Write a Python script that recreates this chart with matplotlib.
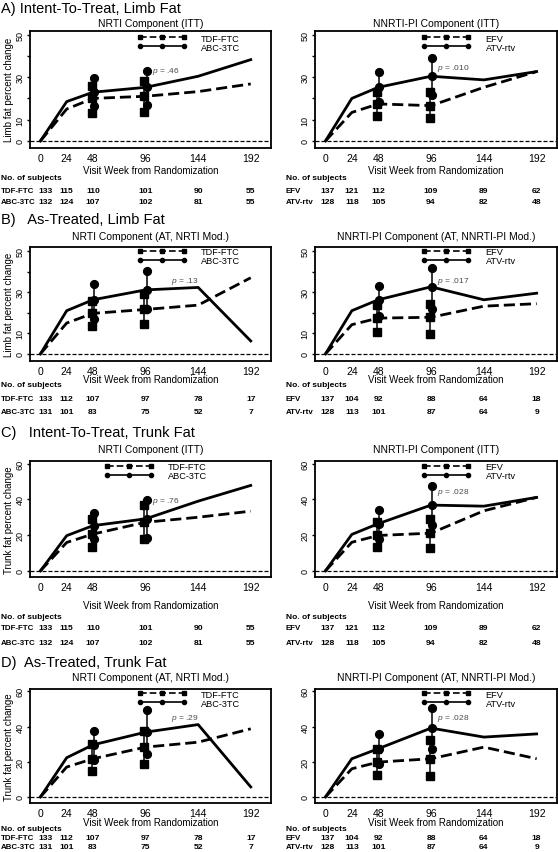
"""
Body fat figure.
Limb and trunk fat percent change by randomized component (ITT and as-treated).
"""

import matplotlib
matplotlib.use("Agg")
import matplotlib.pyplot as plt
from matplotlib.lines import Line2D
from matplotlib.transforms import blended_transform_factory

plt.rcParams["font.family"] = ["Liberation Sans", "DejaVu Sans"]
plt.rcParams["mathtext.fontset"] = "custom"
plt.rcParams["mathtext.rm"] = "Liberation Sans"
plt.rcParams["mathtext.it"] = "Liberation Sans:italic"

# ==============================================================
# Data
# ==============================================================

weeks = [0, 24, 48, 96, 144, 192]
ci_weeks = [48, 96]

nrti_arms = ["TDF-FTC", "ABC-3TC"]
nnrti_arms = ["EFV", "ATV-rtv"]

# A) ITT, limb fat
a_tdf = [0, 15.0, 20.0, 21.0, 23.2, 26.8]
a_tdf_ci = [[13.1, 25.7], [13.7, 28.4]]
a_abc = [0, 18.5, 22.9, 25.2, 30.4, 38.2]
a_abc_ci = [[16.2, 29.5], [16.9, 33.1]]
a_efv = [0, 13.4, 17.4, 16.6, 25.2, 32.6]
a_efv_ci = [[11.5, 22.9], [10.6, 22.9]]
a_atv = [0, 20.0, 25.2, 30.4, 28.7, 32.6]
a_atv_ci = [[18.1, 32.6], [21.6, 39.0]]

# B) As-treated, limb fat
b_tdf = [0, 15.0, 19.7, 21.6, 23.7, 37.0]
b_tdf_ci = [[13.7, 25.5], [14.7, 29.2]]
b_abc = [0, 21.0, 26.3, 31.1, 32.3, 6.3]
b_abc_ci = [[17.0, 33.8], [22.0, 40.5]]
b_efv = [0, 14.2, 17.4, 17.8, 23.2, 24.4]
b_efv_ci = [[10.6, 23.7], [9.9, 24.1]]
b_atv = [0, 21.0, 26.3, 32.6, 26.3, 29.5]
b_atv_ci = [[18.5, 33.1], [21.6, 41.5]]

# C) ITT, trunk fat
c_tdf = [0, 15.9, 20.6, 27.2, 30.0, 33.4]
c_tdf_ci = [[13.5, 29.1], [17.8, 36.6]]
c_abc = [0, 19.7, 25.3, 29.1, 39.0, 47.8]
c_abc_ci = [[17.8, 32.3], [18.4, 39.4]]
c_efv = [0, 16.0, 19.8, 21.1, 33.6, 41.1]
c_efv_ci = [[13.6, 27.4], [12.8, 29.2]]
c_atv = [0, 20.4, 26.4, 36.8, 36.2, 41.1]
c_atv_ci = [[17.9, 34.3], [25.5, 47.5]]

# D) As-treated, trunk fat
d_tdf = [0, 17.0, 21.7, 28.3, 31.1, 38.7]
d_tdf_ci = [[14.7, 30.2], [18.9, 37.7]]
d_abc = [0, 22.3, 29.6, 36.8, 41.1, 5.7]
d_abc_ci = [[21.1, 37.7], [24.2, 49.1]]
d_efv = [0, 16.0, 19.8, 21.7, 28.3, 21.7]
d_efv_ci = [[12.3, 27.4], [11.7, 32.1]]
d_atv = [0, 21.7, 27.4, 39.1, 34.0, 35.8]
d_atv_ci = [[18.9, 35.5], [27.4, 50.6]]

# Number of subjects at each visit week
n_itt_tdf = [133, 115, 110, 101, 90, 55]
n_itt_abc = [132, 124, 107, 102, 81, 55]
n_itt_efv = [137, 121, 112, 109, 89, 62]
n_itt_atv = [128, 118, 105, 94, 82, 48]
n_at_tdf = [133, 112, 107, 97, 78, 17]
n_at_abc = [131, 101, 83, 75, 52, 7]
n_at_efv = [137, 104, 92, 88, 64, 18]
n_at_atv = [128, 113, 101, 87, 64, 9]

p_values = [".46", ".010", ".13", ".017", ".76", ".028", ".29", ".028"]

row_titles = ["A) Intent-To-Treat, Limb Fat", "B)   As-Treated, Limb Fat",
              "C)   Intent-To-Treat, Trunk Fat", "D)  As-Treated, Trunk Fat"]
sub_titles = [["NRTI Component (ITT)", "NNRTI-PI Component (ITT)"],
              ["NRTI Component (AT, NRTI Mod.)", "NNRTI-PI Component (AT, NNRTI-PI Mod.)"],
              ["NRTI Component (ITT)", "NNRTI-PI Component (ITT)"],
              ["NRTI Component (AT, NRTI Mod.)", "NNRTI-PI Component (AT, NNRTI-PI Mod.)"]]

# ==============================================================
# Layout (pixels of a 558 x 853 canvas)
# ==============================================================

W, H = 558, 853
col_x = [(30, 271), (315, 557)]
table_x = [1, 286]
first_count_dx = [4.4, 1.5]   # baseline count nudged right of the arm label
ax_top = [31.7, 248.3, 462.3, 690]
ax_bot = [149, 361.7, 578.3, 804.3]
title_y = [8.5, 220, 433.3, 663.3]
sub_y = [24, 236.5, 450, 678.3]
xlabel_y = [170.7, 380.5, 606, 823.5]
table_y = [[179, 191.7, 202.7], [385.5, 400, 412], [617.7, 629, 643.3], [829.3, 838.5, 847.3]]
legend_x = [[0.444, 0.44], [0.444, 0.44], [0.307, 0.44], [0.443, 0.44]]
legend_y = [0.975, 1.005, 0.99, 0.995]
p_pos = [[(102, 33.0), (101, 34.7)], [(119, 35.5), (101.5, 35.5)],
         [(102, 39.4), (101, 44.3)], [(119, 44.9), (101, 45.3)]]


def draw_panel(ax, dashed, dashed_ci, solid, solid_ci, ylim, yticks, ylabels):
    """Mean curves, 95% CIs at weeks 48/96 and axis styling."""
    ax.axhline(0, color="black", lw=0.9, dashes=(3.2, 1.6))
    ax.plot(weeks, dashed, color="black", lw=2.0, dashes=(4, 1.8))
    ax.plot(weeks, solid, color="black", lw=2.0)

    for i, wk in enumerate(ci_weeks):
        k = weeks.index(wk)
        for vals, ci, marker, dx in [(dashed, dashed_ci, "s", -1.0), (solid, solid_ci, "o", 1.0)]:
            ax.plot([wk + dx, wk + dx], ci[i], color="black", lw=1.1)
            ax.plot([wk + dx] * 3, [ci[i][0], vals[k], ci[i][1]], ls="none",
                    marker=marker, ms=5.6, color="black")

    ax.set_xlim(-9.5, 210.5)
    ax.set_ylim(*ylim)
    ax.set_xticks(weeks)
    ax.set_yticks(yticks)
    ax.set_yticklabels(ylabels)
    ax.tick_params(axis="x", length=0, pad=3.5, labelsize=7.5)
    ax.tick_params(axis="y", length=2.5, width=1, pad=1.5, labelsize=6.5, labelrotation=90)
    for lab in ax.get_yticklabels():
        lab.set_va("center")
    for sp in ax.spines.values():
        sp.set_linewidth(1.3)

    handles = [Line2D([], [], color="black", lw=1.2, dashes=(4, 1.8), marker="s", ms=3),
               Line2D([], [], color="black", lw=1.2, marker="o", ms=3)]
    return handles


fig = plt.figure(figsize=(W / 100, H / 100), dpi=100)

panels = [
    [(a_tdf, a_tdf_ci, a_abc, a_abc_ci, n_itt_tdf, n_itt_abc),
     (a_efv, a_efv_ci, a_atv, a_atv_ci, n_itt_efv, n_itt_atv)],
    [(b_tdf, b_tdf_ci, b_abc, b_abc_ci, n_at_tdf, n_at_abc),
     (b_efv, b_efv_ci, b_atv, b_atv_ci, n_at_efv, n_at_atv)],
    [(c_tdf, c_tdf_ci, c_abc, c_abc_ci, n_itt_tdf, n_itt_abc),
     (c_efv, c_efv_ci, c_atv, c_atv_ci, n_itt_efv, n_itt_atv)],
    [(d_tdf, d_tdf_ci, d_abc, d_abc_ci, n_at_tdf, n_at_abc),
     (d_efv, d_efv_ci, d_atv, d_atv_ci, n_at_efv, n_at_atv)],
]

for r in range(4):
    limb = r < 2
    ylim = (-3.3, 51.8) if limb else (-3.6, 61.3)
    yticks = [0, 10, 20, 30, 40, 50] if limb else [0, 20, 40, 60]
    ylabels = ["0", "10", "", "30", "", "50"] if limb else ["0", "20", "40", "60"]

    fig.text(1 / W, 1 - title_y[r] / H, row_titles[r], fontsize=10.5, va="center", ha="left")

    for c in range(2):
        dashed, dashed_ci, solid, solid_ci, n_dash, n_solid = panels[r][c]
        arms = nrti_arms if c == 0 else nnrti_arms
        x0, x1 = col_x[c]
        ax = fig.add_axes([x0 / W, 1 - ax_bot[r] / H, (x1 - x0) / W, (ax_bot[r] - ax_top[r]) / H])
        handles = draw_panel(ax, dashed, dashed_ci, solid, solid_ci, ylim, yticks, ylabels)

        ax.legend(handles, arms, loc="upper left", bbox_to_anchor=(legend_x[r][c], legend_y[r]),
                  frameon=False, fontsize=6.6, numpoints=3, handlelength=5.4, handletextpad=1.6,
                  labelspacing=0.0, borderpad=0, borderaxespad=0)

        px, py = p_pos[r][c]
        ax.text(px, py, "$p$ = " + p_values[2 * r + c], fontsize=6, color="#4a4a4a",
                ha="left", va="center")

        fig.text((x0 + x1) / 2 / W, 1 - sub_y[r] / H, sub_titles[r][c], fontsize=7.5,
                 ha="center", va="center")

        h = ax_bot[r] - ax_top[r]
        ax.set_xlabel("Visit Week from Randomization", fontsize=7)
        ax.xaxis.set_label_coords(0.5, -(xlabel_y[r] - ax_bot[r]) / h)
        ax.xaxis.label.set_va("center")
        if c == 0:
            ax.set_ylabel("Limb fat percent change" if limb else "Trunk fat percent change", fontsize=7)
            ax.yaxis.set_label_coords((9.3 - x0) / (x1 - x0), 0.5)
            ax.yaxis.label.set_va("center")

        # subjects table under the axes
        tr = blended_transform_factory(ax.transData, fig.transFigure)
        ty = table_y[r]
        fig.text(table_x[c] / W, 1 - ty[0] / H, "No. of subjects", fontsize=6,
                 fontweight="bold", va="center")
        for j, (arm, counts) in enumerate(zip(arms, [n_dash, n_solid])):
            yy = 1 - ty[j + 1] / H
            fig.text(table_x[c] / W, yy, arm, fontsize=5.7, fontweight="bold", va="center")
            for k, (wk, n) in enumerate(zip(weeks, counts)):
                xx = wk + (first_count_dx[c] if k == 0 else 0)
                ax.text(xx, yy, str(n), transform=tr, fontsize=6.1, fontweight="bold",
                        ha="center", va="center", clip_on=False)

fig.savefig("out.png", dpi=100)
